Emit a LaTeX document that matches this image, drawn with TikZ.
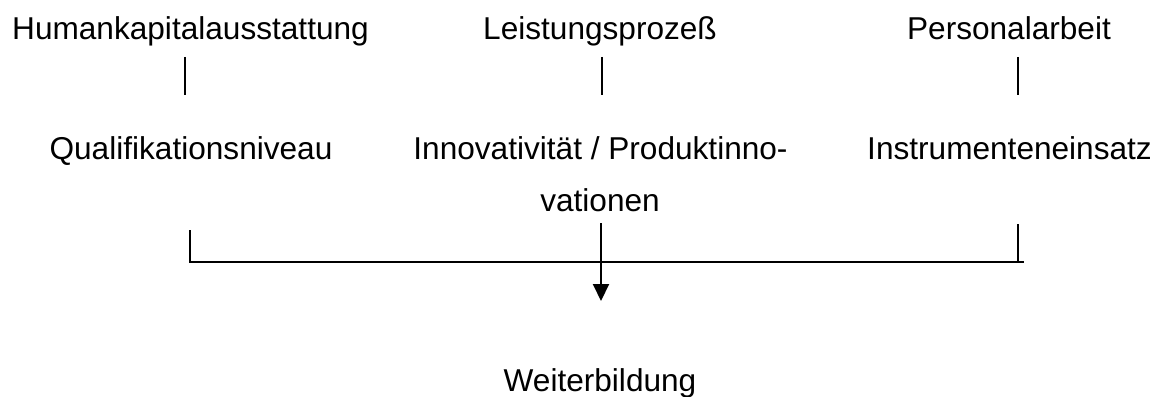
\documentclass[tikz,border=0pt]{standalone}
\usepackage{fontspec}
\setmainfont{Liberation Sans}
\usetikzlibrary{arrows.meta}
\begin{document}
\begin{tikzpicture}[x=1pt,y=-1pt,
  lbl/.style={anchor=base,inner sep=0pt,font=\fontsize{31.6}{38}\selectfont},
  ln/.style={line width=2pt,black},
  arr/.style={ln,-{Triangle[width=16pt,length=17pt]}}]
\useasboundingbox (0,0) rectangle (1169,396);
% texts
\node[lbl] (hk) at (190.5,40) {Humankapitalausstattung};
\node[lbl] (lp) at (600,40) {Leistungsprozeß};
\node[lbl] (pa) at (1009,40) {Personalarbeit};
\node[lbl] (qn) at (191,159) {Qualifikationsniveau};
\node[lbl] (in) at (600.5,159) {Innovativität / Produktinno-};
\node[lbl] (in2) at (600,211) {vationen};
\node[lbl] (ie) at (1009.5,159) {Instrumenteneinsatz};
\node[lbl] (wb) at (600,391) {Weiterbildung};
% connector end points
\coordinate (hkA) at (185,57);  \coordinate (hkB) at (185,95);
\coordinate (lpA) at (602,57);  \coordinate (lpB) at (602,95);
\coordinate (paA) at (1018,57); \coordinate (paB) at (1018,95);
\coordinate (qnA) at (190,230); \coordinate (qnB) at (190,262);
\coordinate (inA) at (601,223); \coordinate (inB) at (601,301);
\coordinate (ieA) at (1018,224); \coordinate (ieB) at (1018,262);
\coordinate (hEnd) at (1024,262);
% connectors
\draw[ln] (hkA) -- (hkB);
\draw[ln] (lpA) -- (lpB);
\draw[ln] (paA) -- (paB);
\draw[ln] (qnA) -- (qnB) -- (hEnd);
\draw[ln] (ieA) -- (ieB);
\draw[arr] (inA) -- (inB);
\end{tikzpicture}
\end{document}
